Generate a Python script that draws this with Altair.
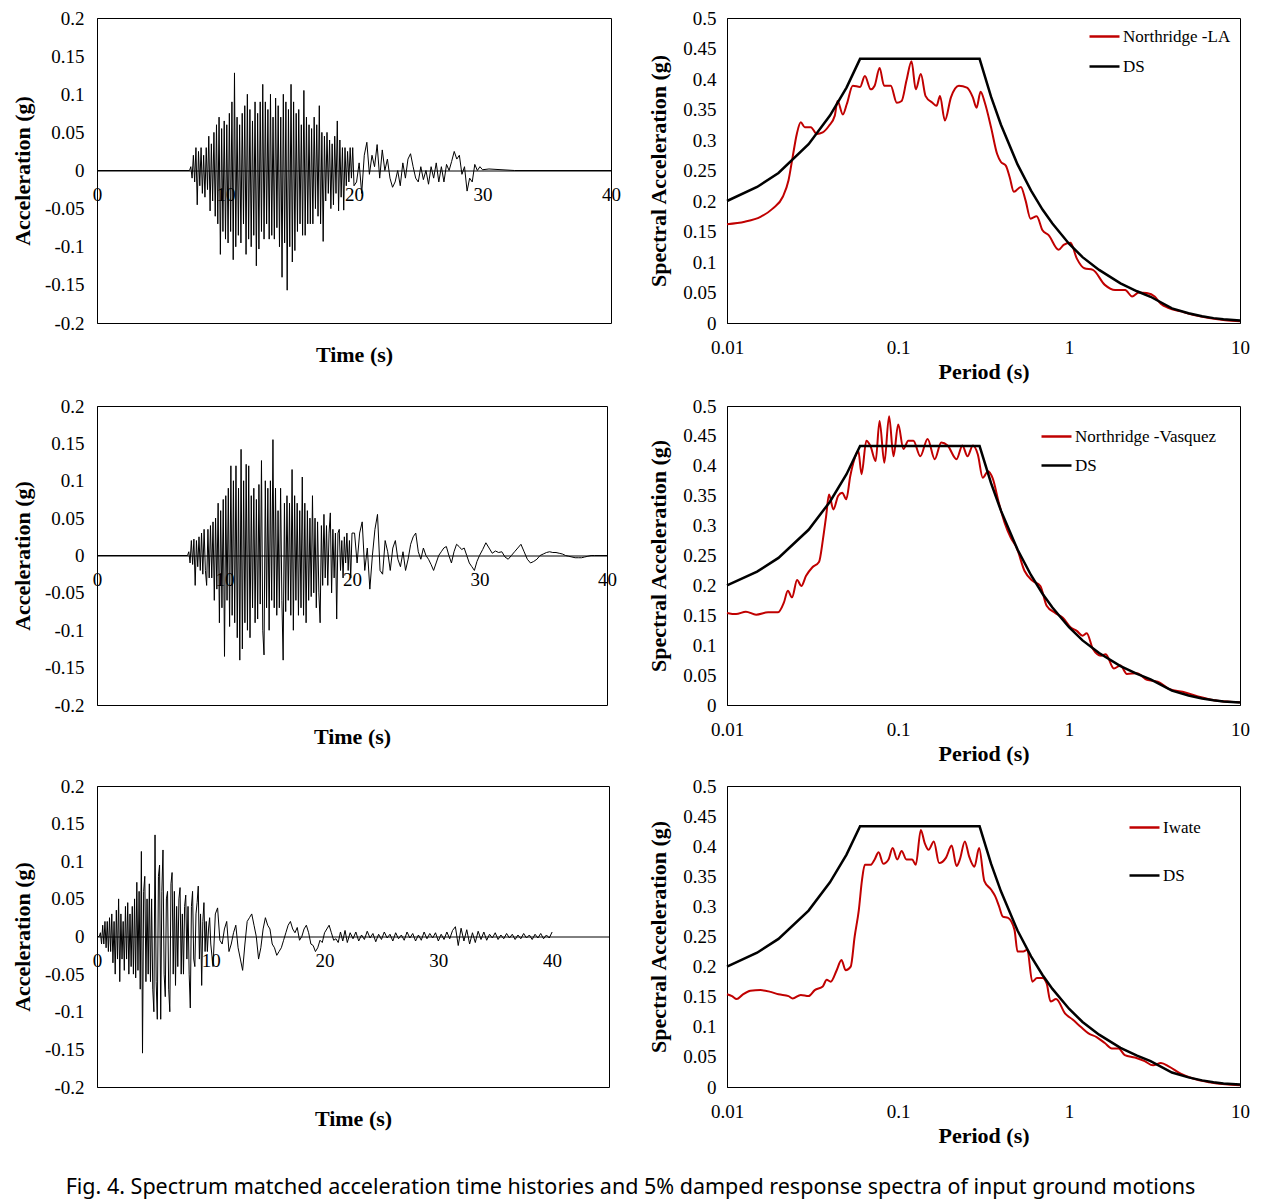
import altair as alt
import pandas as pd

# ---------------- time histories (g) ----------------
# Northridge - LA : strong part sampled every 0.1 s from 7.3 s, coda every 0.2 s from 20.2 s
la_strong = [0.005, -0.01, 0.02, -0.015, 0.03, -0.045, 0.025, -0.02,
             0.03, -0.03, 0.02, -0.035, 0.03, -0.025, 0.045, -0.053, 0.035, -0.04,
             0.05, -0.06, 0.06, -0.07, 0.07, -0.11, 0.055, -0.08, 0.065, -0.09,
             0.06, -0.095, 0.075, -0.08, 0.09, -0.117, 0.128, -0.1, 0.07, -0.085,
             0.06, -0.095, 0.075, -0.07, 0.085, -0.11, 0.1, -0.09, 0.08, -0.1,
             0.065, -0.085, 0.09, -0.125, 0.075, -0.103, 0.09, -0.08, 0.113, -0.09,
             0.09, -0.07, 0.08, -0.09, 0.1, -0.085, 0.07, -0.09, 0.095, -0.075,
             0.085, -0.1, 0.07, -0.14, 0.1, -0.095, 0.09, -0.157, 0.08, -0.1,
             0.113, -0.12, 0.09, -0.105, 0.075, -0.08, 0.08, -0.07, 0.06, -0.085,
             0.105, -0.085, 0.07, -0.07, 0.06, -0.07, 0.055, -0.07, 0.07, -0.05,
             0.06, -0.06, 0.085, -0.07, 0.05, -0.093, 0.045, -0.04, 0.05, -0.03,
             0.04, -0.05, 0.035, -0.045, 0.045, -0.03, 0.065, -0.053, 0.04, -0.035,
             0.03, -0.052, 0.03, -0.02, 0.025, -0.015, 0.03, -0.01, 0.03, -0.02]
la_coda = [-0.015, 0.01, -0.03, 0.02, 0.037, -0.005, 0.02, 0.005, 0.034, -0.01,
           0.027, 0.0, 0.015, -0.01, -0.022, -0.015, 0.0, -0.02, 0.01, -0.01,
           0.015, 0.022, 0.005, -0.01, -0.015, 0.005, -0.012, 0.0, -0.018, 0.005,
           -0.01, 0.01, -0.015, 0.005, -0.015, 0.008, 0.0, 0.012, 0.025, 0.015,
           0.02, -0.005, 0.005, -0.027, -0.01, -0.015, 0.008, 0.0, 0.005, 0.001]

# Northridge - Vasquez : 0.1 s from 7.2 s, 0.2 s from 20.2 s, 0.25 s from 30.25 s
vz_strong = [0.005, -0.01, 0.02, -0.012, 0.022, -0.04, 0.02, -0.015, 0.025,
             -0.02, 0.03, -0.025, 0.035, -0.02, -0.04, 0.035, -0.03, 0.04, -0.03,
             0.045, -0.06, 0.05, -0.045, 0.07, -0.09, 0.06, -0.07, 0.075, -0.135,
             0.08, -0.06, 0.09, -0.095, 0.12, -0.08, 0.1, -0.09, 0.12, -0.11,
             0.09, -0.14, 0.142, -0.125, 0.1, -0.09, 0.122, -0.1, 0.12, -0.11,
             0.08, -0.07, 0.09, -0.09, 0.075, -0.085, 0.095, -0.065, 0.127, -0.1,
             -0.133, 0.1, -0.07, 0.09, -0.1, 0.1, -0.06, 0.155, -0.07, 0.09,
             -0.08, 0.06, -0.07, 0.09, -0.06, -0.14, 0.07, -0.075, 0.08, -0.06,
             0.07, -0.08, 0.115, -0.1, 0.08, -0.06, 0.07, -0.08, 0.06, -0.07,
             0.105, -0.08, 0.07, -0.09, 0.06, -0.06, 0.05, -0.055, 0.08, -0.05,
             0.05, -0.07, 0.045, -0.05, -0.09, 0.04, -0.04, 0.055, -0.03, 0.04,
             -0.04, 0.03, 0.057, -0.05, 0.035, -0.03, 0.03, -0.085, 0.03, 0.035,
             -0.02, 0.02, -0.03, 0.025, -0.01, 0.03, -0.02, 0.02, -0.03, 0.03]
vz_coda = [0.03, -0.01, 0.03, 0.045, -0.02, 0.01, -0.045, 0.0, 0.035, 0.055,
           -0.02, -0.025, 0.02, 0.005, -0.02, 0.01, 0.02, -0.005, -0.015, 0.005,
           -0.02, -0.005, 0.015, 0.025, 0.03, 0.005, -0.005, 0.01, 0.0, -0.005,
           -0.012, -0.02, -0.01, 0.0, 0.005, 0.01, 0.012, 0.0, -0.01, 0.005,
           0.015, 0.012, 0.008, 0.01, 0.0, -0.01, -0.015, -0.02, -0.008, 0.0]
vz_tail = [0.008, 0.017, 0.01, 0.003, 0.006, 0.004, 0.005, -0.002, -0.005, 0.0,
           0.005, 0.01, 0.015, 0.005, -0.005, -0.01, -0.008, -0.005, 0.0, 0.002,
           0.004, 0.005, 0.004, 0.004, 0.003, 0.002, 0.0, -0.001, -0.002, -0.003,
           -0.003, -0.003, -0.002, -0.001, 0.0, 0.0]

# Iwate : 0.1 s from 0.3 s, 0.2 s from 10.2 s, 0.25 s from 22.25 s
iw_strong = [0.005, -0.01, 0.015, -0.01, 0.02, -0.015, 0.02, -0.02,
             0.025, -0.02, 0.03, -0.035, 0.02, -0.05, 0.035, -0.03, 0.05, -0.06,
             0.03, -0.03, 0.02, -0.045, 0.04, -0.03, 0.045, -0.05, 0.03, -0.04,
             0.04, -0.05, 0.05, -0.055, 0.072, -0.045, 0.06, -0.07, 0.113, -0.155,
             0.06, 0.08, -0.06, 0.05, -0.05, 0.07, -0.06, 0.05, -0.07, -0.1,
             0.135, -0.06, -0.11, 0.08, 0.095, -0.11, 0.06, 0.115, -0.05, -0.08,
             0.05, 0.06, -0.07, -0.1, 0.07, 0.085, -0.05, 0.06, -0.065, 0.04,
             -0.04, 0.05, 0.065, -0.05, 0.03, -0.05, 0.04, 0.055, -0.03, 0.04,
             -0.05, -0.095, 0.04, 0.06, -0.03, -0.04, 0.03, 0.045, 0.067, -0.03,
             0.03, -0.065, 0.02, 0.045, -0.02, 0.02, -0.02, 0.01, 0.025, -0.01]
iw_coda = [-0.04, 0.03, 0.038, -0.005, -0.01, 0.01, 0.02, -0.02, -0.01, 0.005,
           0.015, -0.015, -0.03, -0.045, -0.01, 0.02, 0.025, 0.03, 0.015, 0.0,
           -0.03, -0.015, 0.01, 0.025, 0.015, 0.01, -0.01, -0.015, -0.025, -0.02,
           -0.015, -0.005, 0.005, 0.015, 0.02, 0.01, 0.005, 0.012, -0.005, 0.0,
           0.01, 0.015, 0.005, -0.01, -0.012, -0.02, -0.015, -0.005, -0.008, 0.005,
           0.01, 0.015, 0.005, -0.005, -0.003, -0.008, 0.006, -0.006, 0.008, -0.008]
iw_tail = [0.005, -0.003, 0.006, -0.006, 0.002, -0.004, 0.007, -0.002, 0.004, -0.007, 0.003, -0.004,
           0.006, -0.002, 0.003, -0.006, 0.005, -0.003, 0.002, -0.005, 0.006, -0.002, 0.004, -0.006,
           0.002, -0.005, 0.006, -0.003, 0.004, -0.002, 0.005, -0.006, 0.003, -0.004, 0.006, -0.003,
           0.008, 0.013, -0.012, 0.011, -0.006, 0.009, -0.01, 0.005, -0.008, 0.007, -0.004, 0.006,
           -0.005, 0.003, -0.002, 0.005, -0.004, 0.002, -0.003, 0.004, -0.002, 0.003, -0.004, 0.002,
           -0.003, 0.004, -0.002, 0.002, -0.004, 0.003, -0.002, 0.004, -0.003, 0.002, -0.002, 0.006]

# ---------------- response spectra ----------------
ds_T = [0.01, 0.015, 0.02, 0.03, 0.04, 0.05, 0.06, 0.3, 0.35, 0.4, 0.5, 0.6, 0.7, 0.8,
        1.0, 1.2, 1.5, 2.0, 2.5, 3.0, 4.0, 5.0, 6.0, 7.0, 8.0, 10.0]
ds_Sa = [0.200, 0.223, 0.246, 0.293, 0.340, 0.386, 0.433, 0.433, 0.371, 0.325, 0.260, 0.217,
         0.186, 0.163, 0.130, 0.108, 0.087, 0.065, 0.052, 0.043, 0.024, 0.016, 0.011, 0.008,
         0.006, 0.004]

la_T = [0.01, 0.0127, 0.0157, 0.0185, 0.0212, 0.0229, 0.0242, 0.0256, 0.027, 0.0285, 0.0309,
        0.0335, 0.0363, 0.0394, 0.0427, 0.0443, 0.0476, 0.0502, 0.0544, 0.06, 0.064, 0.0693,
        0.073, 0.0781, 0.0829, 0.0907, 0.0984, 0.105, 0.112, 0.120, 0.127, 0.136, 0.145, 0.159,
        0.168, 0.176, 0.188, 0.204, 0.227, 0.253, 0.274, 0.288, 0.304, 0.322, 0.35, 0.38, 0.40,
        0.427, 0.45, 0.476, 0.523, 0.557, 0.596, 0.647, 0.70, 0.76, 0.87, 0.93, 1.02, 1.11, 1.23,
        1.38, 1.62, 1.86, 2.13, 2.34, 2.56, 2.85, 3.17, 3.44, 3.83, 4.5, 5.3, 6.6, 8.2, 10.0]
la_Sa = [0.162, 0.166, 0.174, 0.1875, 0.207, 0.234, 0.272, 0.31, 0.329, 0.321, 0.321, 0.31,
         0.3125, 0.323, 0.34, 0.364, 0.342, 0.359, 0.389, 0.387, 0.405, 0.383, 0.389, 0.418,
         0.389, 0.389, 0.361, 0.364, 0.397, 0.429, 0.383, 0.408, 0.372, 0.361, 0.356, 0.372,
         0.332, 0.37, 0.389, 0.386, 0.37, 0.353, 0.379, 0.361, 0.321, 0.277, 0.264, 0.258,
         0.239, 0.215, 0.223, 0.201, 0.171, 0.175, 0.152, 0.144, 0.12, 0.128, 0.1315, 0.106,
         0.0897, 0.087, 0.0625, 0.054, 0.054, 0.0435, 0.05, 0.049, 0.0435, 0.0315, 0.0245,
         0.019, 0.0136, 0.008, 0.0043, 0.003]

vz_T = [0.01, 0.0113, 0.0129, 0.0148, 0.0174, 0.0199, 0.0215, 0.0227, 0.024, 0.0257, 0.0272,
        0.029, 0.0315, 0.0345, 0.0364, 0.038, 0.0395, 0.0419, 0.0447, 0.0472, 0.0498, 0.0526,
        0.0556, 0.0586, 0.0612, 0.0653, 0.069, 0.074, 0.078, 0.0832, 0.0887, 0.0941, 0.1003,
        0.1076, 0.1148, 0.123, 0.135, 0.149, 0.164, 0.179, 0.195, 0.22, 0.238, 0.255, 0.274,
        0.293, 0.313, 0.336, 0.358, 0.388, 0.42, 0.456, 0.494, 0.55, 0.61, 0.68, 0.74, 0.83,
        0.92, 1.02, 1.11, 1.20, 1.27, 1.38, 1.54, 1.64, 1.83, 2.0, 2.18, 2.5, 2.86, 3.3, 3.84,
        4.78, 5.94, 7.4, 10.0]
vz_Sa = [0.154, 0.152, 0.156, 0.151, 0.155, 0.155, 0.171, 0.191, 0.18, 0.209, 0.199, 0.216,
         0.23, 0.239, 0.277, 0.316, 0.352, 0.327, 0.35, 0.355, 0.344, 0.383, 0.411, 0.425,
         0.386, 0.442, 0.433, 0.408, 0.475, 0.405, 0.483, 0.416, 0.469, 0.428, 0.442, 0.442,
         0.416, 0.445, 0.411, 0.439, 0.434, 0.411, 0.434, 0.416, 0.434, 0.419, 0.38, 0.391,
         0.379, 0.339, 0.305, 0.28, 0.263, 0.224, 0.208, 0.199, 0.166, 0.154, 0.146, 0.13,
         0.124, 0.116, 0.12, 0.0935, 0.0824, 0.085, 0.061, 0.066, 0.052, 0.053, 0.042, 0.039,
         0.027, 0.021, 0.013, 0.007, 0.0045]

iw_T = [0.01, 0.0107, 0.0114, 0.0123, 0.0137, 0.0157, 0.018, 0.02, 0.0229, 0.0242, 0.027, 0.03,
        0.0326, 0.0363, 0.0383, 0.0404, 0.0438, 0.0467, 0.0494, 0.0529, 0.0558, 0.059, 0.0616,
        0.064, 0.069, 0.073, 0.077, 0.082, 0.088, 0.093, 0.099, 0.105, 0.112, 0.121, 0.127,
        0.136, 0.143, 0.151, 0.162, 0.174, 0.191, 0.206, 0.22, 0.23, 0.246, 0.26, 0.28, 0.298,
        0.32, 0.35, 0.37, 0.39, 0.41, 0.44, 0.48, 0.50, 0.54, 0.57, 0.61, 0.65, 0.70, 0.74,
        0.78, 0.84, 0.95, 1.05, 1.17, 1.30, 1.45, 1.62, 1.78, 1.95, 2.12, 2.43, 2.77, 3.1,
        3.45, 3.85, 4.5, 5.3, 6.6, 8.2, 10.0]
iw_Sa = [0.154, 0.151, 0.146, 0.153, 0.16, 0.161, 0.158, 0.154, 0.151, 0.147, 0.153, 0.151,
         0.161, 0.167, 0.178, 0.175, 0.194, 0.211, 0.194, 0.2, 0.25, 0.294, 0.344, 0.369, 0.369,
         0.378, 0.39, 0.371, 0.378, 0.397, 0.378, 0.392, 0.378, 0.378, 0.369, 0.427, 0.406,
         0.394, 0.408, 0.372, 0.381, 0.401, 0.367, 0.378, 0.408, 0.384, 0.366, 0.397, 0.342,
         0.328, 0.317, 0.3, 0.283, 0.281, 0.261, 0.225, 0.225, 0.228, 0.175, 0.181, 0.181,
         0.172, 0.142, 0.146, 0.122, 0.112, 0.1, 0.089, 0.083, 0.073, 0.064, 0.064, 0.053,
         0.049, 0.043, 0.036, 0.04, 0.034, 0.022, 0.014, 0.008, 0.0044, 0.003]

th_y_ticks = [-0.2, -0.15, -0.1, -0.05, 0, 0.05, 0.1, 0.15, 0.2]
th_x_ticks = [0, 10, 20, 30, 40]
sp_y_ticks = [0, 0.05, 0.1, 0.15, 0.2, 0.25, 0.3, 0.35, 0.4, 0.45, 0.5]
sp_x_ticks = [0.01, 0.1, 1, 10]

caption = ("Fig. 4. Spectrum matched acceleration time histories and 5% damped "
           "response spectra of input ground motions")

SERIF = "Liberation Serif"
RED = "#C00000"
NUM_EXPR = "toString(round(datum.value*100)/100)"


def seg(t0, dt, vals):
    return [round(t0 + i * dt, 3) for i in range(len(vals))]


def th_df(times, vals):
    return pd.DataFrame({"t": times, "a": vals})


th1 = th_df([0.0, 7.2] + seg(7.3, 0.1, la_strong) + seg(20.2, 0.2, la_coda) + [30.5, 32.5, 40.0],
            [0.0, 0.0] + la_strong + la_coda + [0.002, 0.0, 0.0])
th2 = th_df([0.0, 7.1] + seg(7.2, 0.1, vz_strong) + seg(20.2, 0.2, vz_coda)
            + seg(30.25, 0.25, vz_tail) + [40.0],
            [0.0, 0.0] + vz_strong + vz_coda + vz_tail + [0.0])
th3 = th_df([0.0, 0.2] + seg(0.3, 0.1, iw_strong) + seg(10.2, 0.2, iw_coda) + seg(22.25, 0.25, iw_tail),
            [0.0, 0.0] + iw_strong + iw_coda + iw_tail)


def th_panel(df, w, h, xmax):
    return alt.Chart(df).mark_line(color="black", strokeWidth=1).encode(
        x=alt.X("t:Q", scale=alt.Scale(domain=[0, xmax], nice=False, zero=False),
                axis=alt.Axis(values=th_x_ticks, title="Time (s)", offset=-h / 2,
                              labelPadding=15, labelFlush=False, labelOverlap=False,
                              labelExpr="toString(datum.value)",
                              titleY=h / 2 + 21, titleBaseline="top")),
        y=alt.Y("a:Q", scale=alt.Scale(domain=[-0.2, 0.2], nice=False),
                axis=alt.Axis(values=th_y_ticks, title="Acceleration (g)", labelPadding=13,
                              titlePadding=10, labelExpr=NUM_EXPR)),
    ).properties(width=w, height=h)


def sp_panel(name, T, Sa, w, h, lx, ly, rowpad):
    rec = pd.DataFrame([(a, b) for a, b in zip(T, Sa)], columns=["T", "Sa"])
    rec["series"] = name
    ds = pd.DataFrame([(a, b) for a, b in zip(ds_T, ds_Sa)], columns=["T", "Sa"])
    ds["series"] = "DS"
    x = alt.X("T:Q", scale=alt.Scale(type="log", domain=[0.01, 10], nice=False),
              axis=alt.Axis(values=sp_x_ticks, title="Period (s)", labelPadding=15,
                            titlePadding=4, labelFlush=False, labelExpr="toString(datum.value)"))
    y = alt.Y("Sa:Q", scale=alt.Scale(domain=[0, 0.5], nice=False),
              axis=alt.Axis(values=sp_y_ticks, title="Spectral Acceleration (g)", labelPadding=11,
                            titlePadding=12, labelExpr=NUM_EXPR))
    color = alt.Color("series:N",
                      scale=alt.Scale(domain=[name, "DS"], range=[RED, "black"]),
                      legend=alt.Legend(title=None, orient="none", legendX=lx, legendY=ly,
                                        symbolType="stroke", symbolSize=900,
                                        symbolStrokeWidth=2.5, labelOffset=2,
                                        rowPadding=rowpad, padding=0,
                                        labelFont=SERIF, labelFontSize=17,
                                        labelColor="black"))
    red = alt.Chart(rec).mark_line(strokeWidth=2, interpolate="monotone").encode(x=x, y=y, color=color)
    blk = alt.Chart(ds).mark_line(strokeWidth=2.5).encode(x=x, y=y, color=color)
    return alt.layer(red, blk).properties(width=w, height=h)


row1 = alt.hconcat(th_panel(th1, 514, 305, 40),
                   sp_panel("Northridge -LA", la_T, la_Sa, 513, 305, 361, 2, 5),
                   spacing=116, bounds="flush").resolve_scale(color="independent")
row2 = alt.hconcat(th_panel(th2, 510, 299, 40),
                   sp_panel("Northridge -Vasquez", vz_T, vz_Sa, 513, 299, 313, 14, 4),
                   spacing=120, bounds="flush").resolve_scale(color="independent")
row3 = alt.hconcat(th_panel(th3, 512, 301, 45),
                   sp_panel("Iwate", iw_T, iw_Sa, 513, 301, 401, 25, 23),
                   spacing=118, bounds="flush").resolve_scale(color="independent")

top_rows = alt.vconcat(row1, row2, spacing=13).resolve_scale(
    color="independent").resolve_legend(color="independent")

chart = alt.vconcat(top_rows, row3, spacing=11).resolve_scale(
    color="independent").resolve_legend(color="independent").properties(
    title=alt.TitleParams(caption, orient="bottom", anchor="middle", font="Noto Sans",
                          fontSize=21.5, fontWeight="normal", color="black", offset=30),
    background="white",
    padding={"left": 2, "top": 0, "right": 5, "bottom": 5}
).configure_view(stroke="black", strokeWidth=1).configure_axis(
    labelFont=SERIF, titleFont=SERIF, labelFontSize=19, titleFontSize=22,
    titleFontWeight="bold", labelColor="black", titleColor="black",
    domainColor="black", grid=False, ticks=False, tickSize=0
)

chart.save("out.html", embed_options={"renderer": "svg", "actions": False})
